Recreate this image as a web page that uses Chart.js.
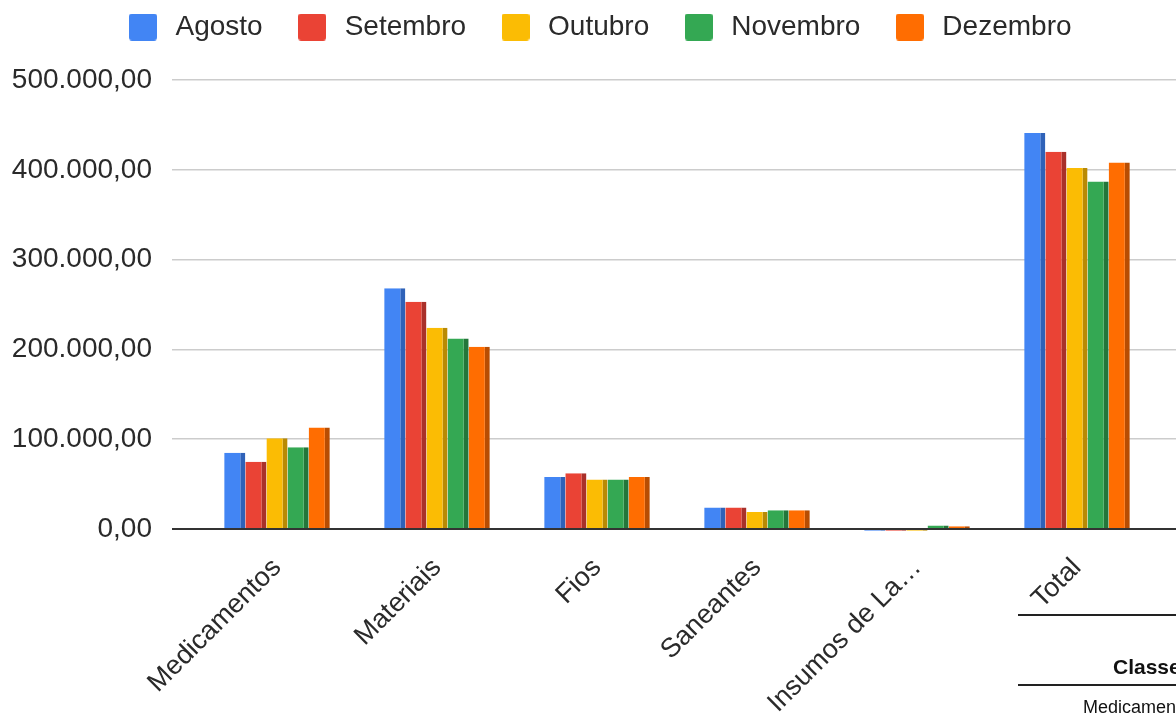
<!DOCTYPE html>
<html>
<head>
<meta charset="utf-8">
<script src="https://cdn.jsdelivr.net/npm/chart.js@4/dist/chart.umd.min.js"></script>
<style>
  html, body { margin: 0; padding: 0; background: #fff; overflow: hidden; }
  #wrap { position: relative; width: 1176px; height: 715px; overflow: hidden; }
  #c { position: absolute; left: 0; top: -18px; }
  .tline { position: absolute; left: 1018px; width: 170px; height: 2px; background: #222; }
  .ttext { position: absolute; font-family: "Liberation Sans", Arial, sans-serif; color: #111; white-space: nowrap; }
</style>
</head>
<body>
<div id="wrap">
  <canvas id="c" width="1176" height="733"></canvas>
  <div class="tline" style="top:614px"></div>
  <div class="ttext" style="left:1113px; top:655px; font-size:21px; font-weight:bold;">Classe</div>
  <div class="tline" style="top:684px"></div>
  <div class="ttext" style="left:1083px; top:697px; font-size:18px;">Medicamentos</div>
</div>
<script>
const categories = ['Medicamentos', 'Materiais', 'Fios', 'Saneantes', 'Insumos de La…', 'Total'];
const seriesNames = ['Agosto', 'Setembro', 'Outubro', 'Novembro', 'Dezembro'];
const agosto   = [85000, 268000, 58000, 24000, -2000, 441000];
const setembro = [75000, 253000, 62000, 24000, -2000, 420000];
const outubro  = [101000, 224000, 55000, 19000, -2000, 402000];
const novembro = [91000, 212000, 55000, 21000, 4000, 387000];
const dezembro = [113000, 203000, 58000, 21000, 3000, 408000];
const yTickLabels = ['0,00', '100.000,00', '200.000,00', '300.000,00', '400.000,00', '500.000,00'];

const seriesValues = [agosto, setembro, outubro, novembro, dezembro];
const fillColors = ['#4285F4', '#EA4335', '#FBBC04', '#34A853', '#FF6D01'];
const sideColors = ['#2F62B8', '#A9302A', '#B98A04', '#23773A', '#B84D02'];

const FONT = '"Liberation Sans", Arial, sans-serif';
const TXT = '#2a2a2a';

function legendSwatch(color) {
  const cv = document.createElement('canvas');
  cv.width = 28; cv.height = 27;
  const g = cv.getContext('2d');
  g.fillStyle = color;
  g.beginPath();
  if (g.roundRect) { g.roundRect(0, 0, 28, 27, 3); } else { g.rect(0, 0, 28, 27); }
  g.fill();
  return cv;
}
const swatches = fillColors.map(legendSwatch);

const datasets = seriesNames.map((name, i) => ({
  label: name,
  data: seriesValues[i],
  backgroundColor: fillColors[i],
  borderColor: sideColors[i],
  borderWidth: { top: 0, right: 5, bottom: 0, left: 0 },
  borderSkipped: false,
  categoryPercentage: 0.66,
  barPercentage: 1.0,
  clip: false,
  yAxisID: 'y'
}));

const legendSpacer = {
  id: 'legendSpacer',
  beforeInit(chart) {
    const origFit = chart.legend.fit;
    chart.legend.fit = function () {
      origFit.call(this);
      this.height += 29;
    };
  },
  afterLayout(chart) {
    chart.legend.left += 20;
  }
};

new Chart(document.getElementById('c'), {
  type: 'bar',
  data: { labels: categories, datasets },
  plugins: [legendSpacer],
  options: {
    responsive: false,
    animation: false,
    devicePixelRatio: 1,
    layout: { padding: { top: 0, left: 0, right: 0, bottom: 0 } },
    plugins: {
      tooltip: { enabled: false },
      legend: {
        position: 'top',
        labels: {
          font: { family: FONT, size: 28 },
          color: TXT,
          usePointStyle: true,
          pointStyleWidth: 37,
          boxHeight: 27,
          padding: 31,
          generateLabels(chart) {
            return chart.data.datasets.map((ds, i) => ({
              text: ds.label,
              fillStyle: fillColors[i],
              strokeStyle: fillColors[i],
              lineWidth: 0,
              fontColor: TXT,
              hidden: false,
              pointStyle: swatches[i],
              datasetIndex: i
            }));
          }
        }
      }
    },
    scales: {
      x: {
        grid: { display: false, drawTicks: false },
        border: { display: false },
        ticks: {
          font: { family: FONT, size: 27 },
          color: TXT,
          minRotation: 45,
          maxRotation: 45,
          padding: 23,
          autoSkip: false
        },
        afterFit(scale) { scale.height = 186; }
      },
      y: {
        min: 0,
        max: 500000,
        ticks: {
          stepSize: 100000,
          font: { family: FONT, size: 28 },
          color: TXT,
          padding: 20,
          callback: (v, idx) => yTickLabels[idx]
        },
        border: { display: false },
        grid: {
          color: ctx => (ctx.tick && ctx.tick.value === 0) ? '#333' : '#cccccc',
          lineWidth: ctx => (ctx.tick && ctx.tick.value === 0) ? 2 : 1.5,
          tickLength: 25,
          drawTicks: true
        },
        afterFit(scale) { scale.width = 197; }
      },
      y2: {
        position: 'right',
        min: 0,
        max: 500000,
        ticks: { stepSize: 100000, display: false },
        border: { display: false },
        grid: {
          drawOnChartArea: false,
          drawTicks: true,
          tickLength: 19,
          color: ctx => (ctx.tick && ctx.tick.value === 0) ? '#333' : '#cccccc',
          lineWidth: ctx => (ctx.tick && ctx.tick.value === 0) ? 2 : 1.5
        },
        afterFit(scale) { scale.width = 19; }
      }
    }
  }
});
</script>
</body>
</html>
